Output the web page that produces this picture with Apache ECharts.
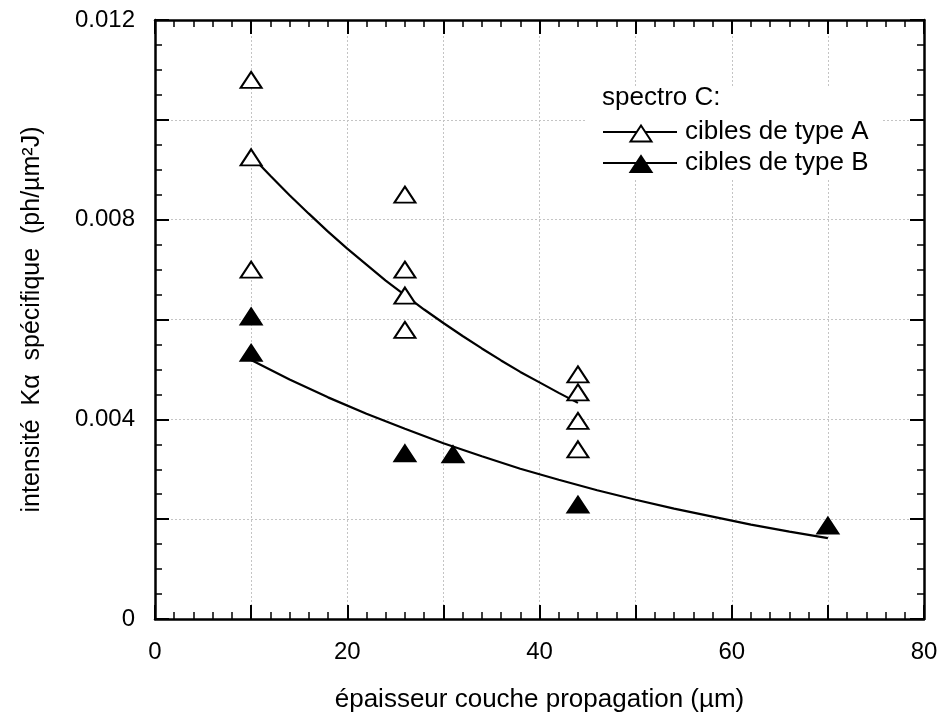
<!DOCTYPE html>
<html>
<head>
<meta charset="utf-8">
<script src="https://cdn.jsdelivr.net/npm/echarts@6/dist/echarts.min.js"></script>
<style>html,body{margin:0;padding:0;background:#fff}#c{width:941px;height:718px}</style>
</head>
<body>
<div id="c"></div>
<script>
// ---- data ----
const xTypeA = [10, 10, 10, 26, 26, 26, 26, 44, 44, 44, 44];
const yTypeA = [0.0108, 0.00925, 0.0070, 0.0085, 0.0070, 0.00648, 0.00579, 0.00490, 0.00454, 0.00397, 0.00340];
const xTypeB = [10, 10, 26, 31, 44, 70];
const yTypeB = [0.00606, 0.00533, 0.00332, 0.00330, 0.00229, 0.00187];
const xFitA = [10, 12, 14, 16, 18, 20, 22, 24, 26, 28, 30, 32, 34, 36, 38, 40, 42, 44];
const yFitA = [0.00928, 0.00888, 0.00849, 0.00812, 0.00776, 0.00742, 0.00710, 0.00678, 0.00649, 0.00620, 0.00593, 0.00567, 0.00542, 0.00518, 0.00495, 0.00474, 0.00453, 0.00433];
const xFitB = [10, 14, 18, 22, 26, 30, 34, 38, 42, 46, 50, 54, 58, 62, 66, 70];
const yFitB = [0.00519, 0.00480, 0.00444, 0.00411, 0.00381, 0.00352, 0.00326, 0.00301, 0.00279, 0.00258, 0.00239, 0.00221, 0.00205, 0.00189, 0.00175, 0.00162];
const xTickLabels = ['0', '20', '40', '60', '80'];
const yTickLabels = ['0', '0.004', '0.008', '0.012'];
const legendTitle = 'spectro C:';
const seriesNames = ['cibles de type A', 'cibles de type B'];
const xName = 'épaisseur couche propagation (µm)';
const yName = 'intensité  Kα  spécifique  (ph/µm²J)';

const FONT = "'Liberation Sans', Arial, sans-serif";
const FS = 24;     // tick labels
const FN = 26;     // axis names & legend
const pairs = (xs, ys) => xs.map((x, i) => [x, ys[i]]);

function fmtY(v) {
  const s = v === 0 ? '0' : (Math.round(v * 1000) / 1000).toFixed(3);
  return yTickLabels.indexOf(s) >= 0 ? s : '';
}
function fmtX(v) {
  const s = String(Math.round(v));
  return xTickLabels.indexOf(s) >= 0 ? s : '';
}

const tickCommon = { show: true, inside: true, length: 14, lineStyle: { color: '#000', width: 2 } };
const minorCommon = { show: true, length: 7, lineStyle: { color: '#000', width: 1.5 } };
const lineCommon = { show: true, onZero: false, lineStyle: { color: '#000', width: 2.5 } };
const splitCommon = { show: true, lineStyle: { color: '#c4c4c4', width: 1, type: [2, 2] } };

const chart = echarts.init(document.getElementById('c'), null, { renderer: 'canvas' });
chart.setOption({
  animation: false,
  backgroundColor: '#fff',
  textStyle: { fontFamily: FONT },
  grid: { left: 155, right: 17, top: 20, bottom: 98, containLabel: false },
  xAxis: [
    {
      type: 'value', position: 'bottom', min: 0, max: 80, interval: 10,
      axisLine: lineCommon, axisTick: tickCommon,
      minorTick: Object.assign({ splitNumber: 5 }, minorCommon),
      splitLine: splitCommon,
      axisLabel: { show: true, margin: 21, fontSize: FS, color: '#000', fontFamily: FONT, formatter: fmtX },
      name: xName, nameLocation: 'middle', nameGap: 68,
      nameTextStyle: { fontSize: FN, color: '#000', fontFamily: FONT }
    },
    {
      type: 'value', position: 'top', min: 0, max: 80, interval: 10,
      axisLine: lineCommon, axisTick: tickCommon,
      minorTick: Object.assign({ splitNumber: 5 }, minorCommon),
      splitLine: { show: false }, axisLabel: { show: false }
    }
  ],
  yAxis: [
    {
      type: 'value', position: 'left', min: 0, max: 0.012, interval: 0.002,
      axisLine: lineCommon, axisTick: tickCommon,
      minorTick: Object.assign({ splitNumber: 4 }, minorCommon),
      splitLine: splitCommon,
      axisLabel: { show: true, margin: 20, fontSize: FS, color: '#000', fontFamily: FONT, formatter: fmtY },
      name: yName, nameLocation: 'middle', nameGap: 110, nameRotate: 90,
      nameTextStyle: { fontSize: 25, color: '#000', fontFamily: FONT }
    },
    {
      type: 'value', position: 'right', min: 0, max: 0.012, interval: 0.002,
      axisLine: lineCommon, axisTick: tickCommon,
      minorTick: Object.assign({ splitNumber: 4 }, minorCommon),
      splitLine: { show: false }, axisLabel: { show: false }
    }
  ],
  graphic: [
    { type: 'rect', z: 50, shape: { x: 585, y: 86, width: 297, height: 94 }, style: { fill: '#fff' } },
    { type: 'text', z: 51, x: 602, y: 98, style: { text: legendTitle, font: FN + 'px ' + FONT, fill: '#000', verticalAlign: 'middle' } },
    { type: 'line', z: 51, shape: { x1: 603, y1: 132, x2: 677, y2: 132 }, style: { stroke: '#000', lineWidth: 2 } },
    { type: 'polygon', z: 52, shape: { points: [[641, 125.5], [630.5, 141.5], [651.5, 141.5]] }, style: { fill: '#fff', stroke: '#000', lineWidth: 2 } },
    { type: 'text', z: 51, x: 685, y: 132, style: { text: seriesNames[0], font: FN + 'px ' + FONT, fill: '#000', verticalAlign: 'middle' } },
    { type: 'line', z: 51, shape: { x1: 603, y1: 163, x2: 677, y2: 163 }, style: { stroke: '#000', lineWidth: 2 } },
    { type: 'polygon', z: 52, shape: { points: [[641, 156], [630.5, 172], [651.5, 172]] }, style: { fill: '#000', stroke: '#000', lineWidth: 2 } },
    { type: 'text', z: 51, x: 685, y: 163, style: { text: seriesNames[1], font: FN + 'px ' + FONT, fill: '#000', verticalAlign: 'middle' } }
  ],
  series: [
    {
      name: seriesNames[0] + ' fit', type: 'line', data: pairs(xFitA, yFitA), showSymbol: false, symbol: 'none',
      lineStyle: { color: '#000', width: 2.2 }, z: 2, silent: true
    },
    {
      name: seriesNames[1] + ' fit', type: 'line', data: pairs(xFitB, yFitB), showSymbol: false, symbol: 'none',
      lineStyle: { color: '#000', width: 2.2 }, z: 2, silent: true
    },
    {
      name: seriesNames[0], type: 'scatter', data: pairs(xTypeA, yTypeA), symbol: 'triangle', symbolSize: [21, 16],
      itemStyle: { color: '#fff', borderColor: '#000', borderWidth: 2, opacity: 1 }, z: 3
    },
    {
      name: seriesNames[1], type: 'scatter', data: pairs(xTypeB, yTypeB), symbol: 'triangle', symbolSize: [21, 16],
      itemStyle: { color: '#000', borderColor: '#000', borderWidth: 2, opacity: 1 }, z: 3
    }
  ]
});
</script>
</body>
</html>
